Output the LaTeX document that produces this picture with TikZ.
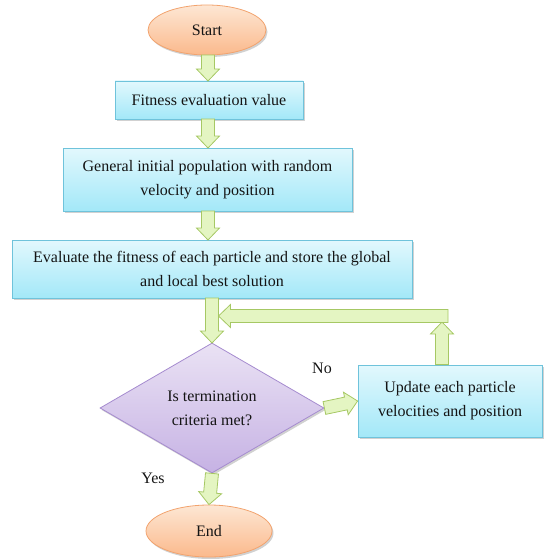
\documentclass[tikz,border=0pt]{standalone}
\usepackage{fontspec}
\setmainfont{Liberation Serif}
\usetikzlibrary{shapes.geometric,shadows,calc}
\definecolor{arrfill}{HTML}{E4F5C2}
\definecolor{arrline}{HTML}{A6C864}
\definecolor{boxtop}{HTML}{E2F8FD}
\definecolor{boxbot}{HTML}{A3E8F8}
\definecolor{boxline}{HTML}{6FC3DB}
\definecolor{ovtop}{HTML}{FDE7D4}
\definecolor{ovbot}{HTML}{FBB98C}
\definecolor{ovline}{HTML}{F2A36E}
\definecolor{dmtop}{HTML}{EAE2F4}
\definecolor{dmbot}{HTML}{C6B2E4}
\definecolor{dmline}{HTML}{A58BCF}
\definecolor{txt}{HTML}{141414}
\tikzset{
  x=1pt, y=1pt,
  lbl/.style={font=\fontsize{16}{24}\selectfont, text=txt},
  shad/.style={drop shadow={shadow xshift=1.5pt, shadow yshift=-2pt, opacity=0.18, fill=black}},
  procbox/.style={lbl, shad, draw=boxline, top color=boxtop, bottom color=boxbot, line width=0.8pt, inner sep=0pt, align=center},
  terminal/.style={lbl, shad, ellipse, draw=ovline, top color=ovtop, bottom color=ovbot, line width=0.8pt, inner sep=0pt},
  decision/.style={lbl, shad, diamond, draw=dmline, top color=dmtop, bottom color=dmbot, line width=0.8pt, inner sep=0pt, align=center},
  blockarr/.style={draw=arrline, fill=arrfill, line width=0.8pt, line join=miter}
}
\newcommand\blockarrow[2]{%
  \draw[blockarr] let \p1=(#1), \p2=(#2),
     \n1={atan2(\y2-\y1,\x2-\x1)},
     \n2={veclen(\x2-\x1,\y2-\y1)-12}
  in ($(\p1)+({\n1+90}:6.5)$) -- ++(\n1:\n2) -- ++({\n1+90}:5) -- (\p2)
     -- ($(\p1)+(\n1:\n2)+({\n1-90}:11.5)$) -- ++({\n1+90}:5)
     -- ($(\p1)+({\n1-90}:6.5)$) -- cycle;}
\begin{document}
\begin{tikzpicture}
\useasboundingbox (0,0) rectangle (544,-559);
\node[terminal, minimum width=118, minimum height=50] (start) at (207,-30) {Start};
\node[procbox, minimum width=188, minimum height=38] (fit) at (209,-100) {Fitness evaluation value};
\node[procbox, minimum width=289, minimum height=63] (gen) at (207.5,-179.5) {General initial population with random\\velocity and position};
\node[procbox, minimum width=400, minimum height=58] (eval) at (212,-269) {Evaluate the fitness of each particle and store the global\\and local best solution};
\node[decision, minimum width=224, minimum height=130] (dec) at (212,-408) {Is termination\\criteria met?};
\node[procbox, minimum width=184, minimum height=72] (upd) at (450,-401) {Update each particle\\velocities and position};
\node[terminal, minimum width=126, minimum height=52] (stop) at (209,-531) {End};
\node[lbl] (no) at (322,-368) {No};
\node[lbl] (yes) at (153,-478) {Yes};
\coordinate (a1s) at (208,-55);
\coordinate (a1e) at (208,-81);
\coordinate (a2s) at (208,-119);
\coordinate (a2e) at (208,-148);
\coordinate (a3s) at (208,-211);
\coordinate (a3e) at (208,-240);
\coordinate (a4s) at (212,-298);
\coordinate (a4e) at (212,-343);
\coordinate (upt) at (442,-322);
\coordinate (bars) at (448,-316);
\coordinate (bare) at (218.5,-316);
\blockarrow{a1s}{a1e}
\blockarrow{a2s}{a2e}
\blockarrow{a3s}{a3e}
\blockarrow{a4s}{a4e}
\blockarrow{dec.east}{upd.west}
\blockarrow{upd.north -| upt}{upt}
\blockarrow{bars}{bare}
\blockarrow{dec.south}{stop.north}
\end{tikzpicture}
\end{document}
